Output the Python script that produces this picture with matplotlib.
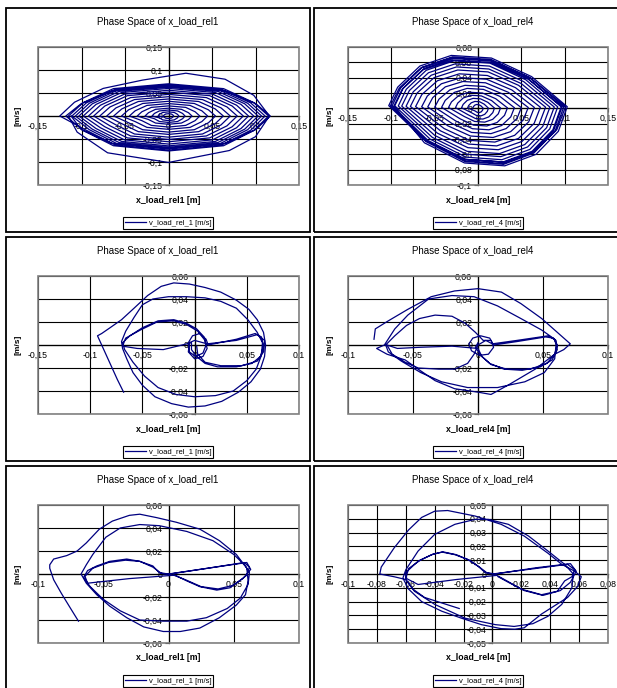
import matplotlib
matplotlib.use('Agg')
import matplotlib.pyplot as plt
from matplotlib.patches import Rectangle

plt.rcParams['font.family'] = ['Liberation Sans', 'DejaVu Sans']

# ---------------- data ----------------
titles = ['Phase Space of x_load_rel1', 'Phase Space of x_load_rel4']
xlabels = ['x_load_rel1 [m]', 'x_load_rel4 [m]']
legends = ['v_load_rel_1 [m/s]', 'v_load_rel_4 [m/s]']
ylabel = '[m/s]'

# panel 1 (top left): one row per revolution
x1 = [
    -0.006, -0.0051, -0.0033, 0, 0.0033, 0.0051, 0.006, 0.0051, 0.0033, 0, -0.0033, -0.0051,
    -0.012, -0.0102, -0.0066, 0, 0.0066, 0.0102, 0.012, 0.0102, 0.0066, 0, -0.0066, -0.0102,
    -0.019, -0.0162, -0.0105, 0, 0.0105, 0.0162, 0.019, 0.0162, 0.0105, 0, -0.0105, -0.0162,
    -0.027, -0.023, -0.0149, 0, 0.0149, 0.023, 0.027, 0.023, 0.0149, 0, -0.0149, -0.023,
    -0.036, -0.0306, -0.0198, 0, 0.0198, 0.0306, 0.036, 0.0306, 0.0198, 0, -0.0198, -0.0306,
    -0.045, -0.0383, -0.0248, 0, 0.0248, 0.0383, 0.045, 0.0383, 0.0248, 0, -0.0248, -0.0383,
    -0.054, -0.0459, -0.0297, 0, 0.0297, 0.0459, 0.054, 0.0459, 0.0297, 0, -0.0297, -0.0459,
    -0.063, -0.0536, -0.0347, 0, 0.0347, 0.0536, 0.063, 0.0536, 0.0347, 0, -0.0347, -0.0536,
    -0.071, -0.0604, -0.0391, 0, 0.0391, 0.0604, 0.071, 0.0604, 0.0391, 0, -0.0391, -0.0604,
    -0.079, -0.0672, -0.0435, 0, 0.0435, 0.0672, 0.079, 0.0672, 0.0435, 0, -0.0435, -0.0672,
    -0.086, -0.0731, -0.0473, 0, 0.0473, 0.0731, 0.086, 0.0731, 0.0473, 0, -0.0473, -0.0731,
    -0.092, -0.0782, -0.0506, 0, 0.0506, 0.0782, 0.092, 0.0782, 0.0506, 0, -0.0506, -0.0782,
    -0.098, -0.0833, -0.0539, 0, 0.0539, 0.0833, 0.098, 0.0833, 0.0539, 0, -0.0539, -0.0833,
    -0.103, -0.0876, -0.0567, 0, 0.0567, 0.0876, 0.103, 0.0876, 0.0567, 0, -0.0567, -0.0876,
    -0.107, -0.091, -0.0589, 0, 0.0589, 0.091, 0.107, 0.091, 0.0589, 0, -0.0589, -0.091,
    -0.111, -0.0944, -0.0611, 0, 0.0611, 0.0944, 0.111, 0.0944, 0.0611, 0, -0.0611, -0.0944,
    -0.125, -0.108, -0.075, -0.03, 0.02, 0.065, 0.098, 0.116, 0.1, 0.07, 0.0, -0.07, -0.105,
    -0.115, -0.0978, -0.0633, 0, 0.0633, 0.0978, 0.115, 0.0978, 0.0633, 0, -0.0633, -0.0978,
    -0.118, -0.1003, -0.0649, 0, 0.0649, 0.1003, 0.117, 0.1003, 0.0649, 0, -0.0649, -0.1003, -0.112]
v1 = [
    0, 0.0021, 0.0043, 0.005, 0.0043, 0.0021, 0, -0.0023, -0.0047, -0.0055, -0.0047, -0.0023,
    0, 0.0038, 0.0077, 0.009, 0.0077, 0.0038, 0, -0.0042, -0.0085, -0.01, -0.0085, -0.0042,
    0, 0.0055, 0.011, 0.013, 0.011, 0.0055, 0, -0.0059, -0.0119, -0.014, -0.0119, -0.0059,
    0, 0.0071, 0.0145, 0.017, 0.0145, 0.0071, 0, -0.0076, -0.0153, -0.018, -0.0153, -0.0076,
    0, 0.0092, 0.0187, 0.022, 0.0187, 0.0092, 0, -0.0101, -0.0204, -0.024, -0.0204, -0.0101,
    0, 0.0113, 0.023, 0.027, 0.023, 0.0113, 0, -0.0122, -0.0247, -0.029, -0.0247, -0.0122,
    0, 0.0134, 0.0272, 0.032, 0.0272, 0.0134, 0, -0.0147, -0.0298, -0.035, -0.0298, -0.0147,
    0, 0.0155, 0.0315, 0.037, 0.0315, 0.0155, 0, -0.0168, -0.034, -0.04, -0.034, -0.0168,
    0, 0.0176, 0.0357, 0.042, 0.0357, 0.0176, 0, -0.0193, -0.0391, -0.046, -0.0391, -0.0193,
    0, 0.0197, 0.04, 0.047, 0.04, 0.0197, 0, -0.0214, -0.0434, -0.051, -0.0434, -0.0214,
    0, 0.0218, 0.0442, 0.052, 0.0442, 0.0218, 0, -0.0235, -0.0476, -0.056, -0.0476, -0.0235,
    0, 0.0235, 0.0476, 0.056, 0.0476, 0.0235, 0, -0.0256, -0.0519, -0.061, -0.0519, -0.0256,
    0, 0.0252, 0.051, 0.06, 0.051, 0.0252, 0, -0.0273, -0.0553, -0.065, -0.0553, -0.0273,
    0, 0.0265, 0.0536, 0.063, 0.0536, 0.0265, 0, -0.0286, -0.0578, -0.068, -0.0578, -0.0286,
    0, 0.0277, 0.0561, 0.066, 0.0561, 0.0277, 0, -0.0298, -0.0604, -0.071, -0.0604, -0.0298,
    0, 0.0286, 0.0578, 0.068, 0.0578, 0.0286, 0, -0.0311, -0.0629, -0.074, -0.0629, -0.0311,
    0, 0.03, 0.06, 0.078, 0.093, 0.08, 0.045, 0, -0.045, -0.075, -0.101, -0.08, -0.035,
    0, 0.0294, 0.0595, 0.07, 0.0595, 0.0294, 0, -0.0319, -0.0646, -0.076, -0.0646, -0.0319,
    0, 0.0269, 0.0544, 0.064, 0.0544, 0.0269, 0, -0.0294, -0.0595, -0.07, -0.0595, -0.0294, 0]

# panel 2 (top right): one row per revolution
x2 = [
    -0.006, -0.0054, -0.0039, -0.0018, 0.0009, 0.0036, 0.006, 0.0054, 0.0039, 0.0018, -0.0009, -0.0036,
    -0.012, -0.0108, -0.0078, -0.0036, 0.0018, 0.0072, 0.012, 0.0108, 0.0078, 0.0036, -0.0018, -0.0072,
    -0.019, -0.0171, -0.0124, -0.0057, 0.0029, 0.0114, 0.019, 0.0171, 0.0124, 0.0057, -0.0029, -0.0114,
    -0.026, -0.0234, -0.0169, -0.0078, 0.0039, 0.0156, 0.026, 0.0234, 0.0169, 0.0078, -0.0039, -0.0156,
    -0.034, -0.0306, -0.0221, -0.0102, 0.0051, 0.0204, 0.034, 0.0306, 0.0221, 0.0102, -0.0051, -0.0204,
    -0.042, -0.0378, -0.0273, -0.0126, 0.0063, 0.0252, 0.042, 0.0378, 0.0273, 0.0126, -0.0063, -0.0252,
    -0.050, -0.045, -0.0325, -0.015, 0.0075, 0.030, 0.050, 0.045, 0.0325, 0.015, -0.0075, -0.030,
    -0.058, -0.0522, -0.0377, -0.0174, 0.0087, 0.0348, 0.058, 0.0522, 0.0377, 0.0174, -0.0087, -0.0348,
    -0.065, -0.0585, -0.0423, -0.0195, 0.0098, 0.039, 0.065, 0.0585, 0.0423, 0.0195, -0.0098, -0.039,
    -0.072, -0.0648, -0.0468, -0.0216, 0.0108, 0.0432, 0.072, 0.0648, 0.0468, 0.0216, -0.0108, -0.0432,
    -0.078, -0.0702, -0.0507, -0.0234, 0.0117, 0.0468, 0.078, 0.0702, 0.0507, 0.0234, -0.0117, -0.0468,
    -0.083, -0.0747, -0.054, -0.0249, 0.0125, 0.0498, 0.083, 0.0747, 0.054, 0.0249, -0.0125, -0.0498,
    -0.088, -0.0792, -0.0572, -0.0264, 0.0132, 0.0528, 0.088, 0.0792, 0.0572, 0.0264, -0.0132, -0.0528,
    -0.092, -0.0828, -0.0598, -0.0276, 0.0138, 0.0552, 0.092, 0.0828, 0.0598, 0.0276, -0.0138, -0.0552,
    -0.096, -0.0864, -0.0624, -0.0288, 0.0144, 0.0576, 0.096, 0.0864, 0.0624, 0.0288, -0.0144, -0.0576,
    -0.099, -0.0891, -0.0644, -0.0297, 0.0149, 0.0594, 0.099, 0.0891, 0.0644, 0.0297, -0.0149, -0.0594,
    -0.103, -0.0927, -0.067, -0.0309, 0.0155, 0.0618, 0.103, 0.0927, 0.067, 0.0309, -0.0155, -0.0618,
    -0.097, -0.0873, -0.0631, -0.0291, 0.0146, 0.0582, 0.097, 0.0873, 0.0631, 0.0291, -0.0146, -0.0582,
    -0.101, -0.0909, -0.0657, -0.0303, 0.0152, 0.0606, 0.101, 0.0909, 0.0657, 0.0303, -0.0152, -0.0606, -0.100]
v2 = [
    0.0003, 0.002, 0.004, 0.005, 0.0048, 0.003, 0.0002, -0.0022, -0.0044, -0.0055, -0.0052, -0.0033,
    0.0005, 0.0036, 0.0072, 0.009, 0.0086, 0.0054, 0.0003, -0.0039, -0.0078, -0.0098, -0.0093, -0.0059,
    0.0007, 0.0052, 0.0104, 0.013, 0.0124, 0.0078, 0.0004, -0.0056, -0.0112, -0.014, -0.0133, -0.0084,
    0.0009, 0.0068, 0.0136, 0.017, 0.0162, 0.0102, 0.0005, -0.0072, -0.0144, -0.018, -0.0171, -0.0108,
    0.0011, 0.0084, 0.0168, 0.021, 0.020, 0.0126, 0.0006, -0.0092, -0.0184, -0.023, -0.0219, -0.0138,
    0.0013, 0.0104, 0.0208, 0.026, 0.0247, 0.0156, 0.0008, -0.0112, -0.0224, -0.028, -0.0266, -0.0168,
    0.0015, 0.012, 0.024, 0.030, 0.0285, 0.018, 0.0009, -0.0132, -0.0264, -0.033, -0.0314, -0.0198,
    0.0018, 0.014, 0.028, 0.035, 0.0333, 0.021, 0.0011, -0.0152, -0.0304, -0.038, -0.0361, -0.0228,
    0.002, 0.016, 0.032, 0.040, 0.038, 0.024, 0.0012, -0.0176, -0.0352, -0.044, -0.0418, -0.0264,
    0.0023, 0.018, 0.036, 0.045, 0.0428, 0.027, 0.0014, -0.0196, -0.0392, -0.049, -0.0466, -0.0294,
    0.0025, 0.020, 0.040, 0.050, 0.0475, 0.030, 0.0015, -0.0216, -0.0432, -0.054, -0.0513, -0.0324,
    0.0027, 0.0216, 0.0432, 0.054, 0.0513, 0.0324, 0.0016, -0.0236, -0.0472, -0.059, -0.0561, -0.0354,
    0.0029, 0.0232, 0.0464, 0.058, 0.0551, 0.0348, 0.0017, -0.0252, -0.0504, -0.063, -0.0599, -0.0378,
    0.0031, 0.0248, 0.0496, 0.062, 0.0589, 0.0372, 0.0019, -0.0268, -0.0536, -0.067, -0.0637, -0.0402,
    0.0033, 0.026, 0.052, 0.065, 0.0618, 0.039, 0.002, -0.028, -0.056, -0.070, -0.0665, -0.042,
    0.0034, 0.0268, 0.0536, 0.067, 0.0637, 0.0402, 0.002, -0.0292, -0.0584, -0.073, -0.0694, -0.0438,
    0.0035, 0.0276, 0.0552, 0.069, 0.0656, 0.0414, 0.0021, -0.030, -0.060, -0.075, -0.0713, -0.045,
    0.0032, 0.0252, 0.0504, 0.063, 0.0599, 0.0378, 0.0019, -0.0288, -0.0576, -0.072, -0.0684, -0.0432,
    0.0033, 0.0264, 0.0528, 0.066, 0.0627, 0.0396, 0.002, -0.028, -0.056, -0.070, -0.0665, -0.042, 0.004]

# panel 3 (middle left) as (x, v) points
traj3 = [
    (-0.068, -0.041), (-0.074, -0.030), (-0.080, -0.018), (-0.086, -0.006), (-0.091, 0.004),
    (-0.093, 0.008), (-0.089, 0.010), (-0.081, 0.015), (-0.070, 0.022), (-0.058, 0.032),
    (-0.045, 0.043), (-0.032, 0.051), (-0.020, 0.054), (-0.005, 0.053), (0.010, 0.050),
    (0.025, 0.046), (0.040, 0.039), (0.052, 0.031), (0.060, 0.022), (0.066, 0.011),
    (0.068, 0.000), (0.067, -0.010), (0.063, -0.021), (0.054, -0.032), (0.042, -0.041),
    (0.026, -0.049), (0.010, -0.053), (-0.006, -0.054), (-0.022, -0.051), (-0.038, -0.045),
    (-0.050, -0.035), (-0.059, -0.024), (-0.065, -0.012), (-0.069, -0.003), (-0.070, 0.003),
    (-0.066, 0.012), (-0.058, 0.024), (-0.050, 0.035), (-0.040, 0.040), (-0.025, 0.042),
    (-0.008, 0.042), (0.010, 0.041), (0.025, 0.038), (0.040, 0.032), (0.051, 0.022),
    (0.060, 0.011), (0.065, 0.002), (0.064, -0.009), (0.059, -0.021), (0.050, -0.031),
    (0.037, -0.040), (0.020, -0.044), (0.000, -0.045), (-0.018, -0.043), (-0.035, -0.037),
    (-0.048, -0.027), (-0.059, -0.015), (-0.067, -0.004), (-0.069, 0.002),
    (-0.062, 0.008), (-0.050, 0.015), (-0.035, 0.021), (-0.020, 0.022), (-0.008, 0.019),
    (0.002, 0.014), (0.009, 0.007), (0.011, 0.000), (0.008, -0.007), (0.001, -0.010),
    (-0.005, -0.006), (-0.006, 0.002), (-0.002, 0.008), (0.005, 0.010), (0.011, 0.005),
    (0.013, 0.000), (0.040, 0.005), (0.058, 0.010), (0.064, 0.007), (0.066, -0.001),
    (0.063, -0.010), (0.055, -0.016), (0.040, -0.019), (0.022, -0.019), (0.010, -0.016),
    (0.002, -0.010), (-0.003, -0.004), (-0.003, 0.002), (-0.030, -0.004), (-0.055, -0.003),
    (-0.069, -0.001), (-0.066, 0.006), (-0.052, 0.013), (-0.036, 0.020), (-0.020, 0.021),
    (-0.008, 0.018), (0.003, 0.012), (0.010, 0.004), (0.012, -0.003), (0.008, -0.010),
    (0.000, -0.012), (-0.006, -0.006), (-0.005, 0.002), (0.000, 0.004), (0.012, 0.001),
    (0.040, 0.004), (0.060, 0.009), (0.067, 0.004), (0.066, -0.006), (0.060, -0.014),
    (0.045, -0.018), (0.025, -0.018), (0.010, -0.015), (0.003, -0.008), (0.002, -0.001)]

# panel 4 (middle right)
traj4 = [
    (-0.080, 0.005), (-0.079, 0.014), (-0.069, 0.021), (-0.054, 0.031), (-0.036, 0.042),
    (-0.018, 0.047), (0.000, 0.049), (0.018, 0.046), (0.033, 0.036), (0.049, 0.023),
    (0.061, 0.011), (0.071, 0.001), (0.066, -0.004), (0.059, -0.008), (0.044, -0.021),
    (0.023, -0.035), (0.010, -0.043), (0.000, -0.041), (-0.018, -0.038), (-0.033, -0.031),
    (-0.046, -0.021), (-0.056, -0.013), (-0.070, -0.008), (-0.078, -0.003), (-0.072, 0.000),
    (-0.064, 0.014), (-0.054, 0.026), (-0.038, 0.040), (-0.020, 0.043), (-0.003, 0.042),
    (0.015, 0.034), (0.033, 0.023), (0.049, 0.013), (0.059, 0.005), (0.060, 0.000),
    (0.059, -0.012), (0.051, -0.024), (0.036, -0.032), (0.015, -0.037), (-0.008, -0.037),
    (-0.028, -0.032), (-0.044, -0.024), (-0.059, -0.014), (-0.069, -0.006), (-0.071, 0.000),
    (-0.064, 0.008), (-0.055, 0.017), (-0.045, 0.023), (-0.033, 0.026), (-0.020, 0.025),
    (-0.010, 0.019), (-0.002, 0.011), (0.004, 0.004), (0.010, 0.004), (0.012, -0.002),
    (0.008, -0.008), (0.001, -0.009), (-0.005, -0.005), (-0.007, 0.001), (-0.004, 0.006),
    (0.002, 0.008), (0.009, 0.006), (0.012, 0.000), (0.030, 0.003), (0.052, 0.007),
    (0.058, 0.006), (0.061, 0.000), (0.059, -0.008), (0.053, -0.016), (0.040, -0.021),
    (0.022, -0.021), (0.010, -0.017), (0.003, -0.010), (0.000, -0.003), (-0.020, -0.001),
    (-0.045, -0.002), (-0.062, -0.003), (-0.070, 0.000), (-0.066, -0.008), (-0.056, -0.015),
    (-0.046, -0.020), (-0.030, -0.021), (-0.018, -0.021), (-0.008, -0.016), (-0.003, -0.008),
    (0.000, 0.000), (0.006, 0.004), (0.011, 0.001), (0.030, 0.004), (0.054, 0.008),
    (0.060, 0.004), (0.061, -0.004), (0.057, -0.013), (0.048, -0.019), (0.034, -0.022),
    (0.020, -0.021), (0.009, -0.016), (0.002, -0.009), (-0.002, -0.002), (0.000, 0.002)]

# panel 5 (bottom left)
traj5 = [
    (-0.069, -0.041), (-0.075, -0.030), (-0.082, -0.017), (-0.088, -0.005), (-0.091, 0.005),
    (-0.091, 0.008), (-0.088, 0.013), (-0.078, 0.016), (-0.070, 0.020), (-0.063, 0.027),
    (-0.053, 0.039), (-0.043, 0.046), (-0.030, 0.051), (-0.022, 0.052), (-0.009, 0.049),
    (0.006, 0.045), (0.024, 0.039), (0.039, 0.029), (0.052, 0.017), (0.060, 0.005),
    (0.061, -0.006), (0.059, -0.018), (0.052, -0.027), (0.039, -0.038), (0.024, -0.047),
    (0.009, -0.050), (-0.004, -0.050), (-0.019, -0.046), (-0.032, -0.038), (-0.045, -0.028),
    (-0.055, -0.018), (-0.063, -0.008), (-0.067, 0.000), (-0.063, 0.008), (-0.058, 0.017),
    (-0.048, 0.032), (-0.037, 0.040), (-0.022, 0.043), (-0.007, 0.042), (0.014, 0.037),
    (0.034, 0.029), (0.050, 0.017), (0.059, 0.007), (0.062, 0.001), (0.061, -0.009),
    (0.055, -0.021), (0.045, -0.030), (0.029, -0.038), (0.014, -0.041), (-0.004, -0.041),
    (-0.022, -0.040), (-0.037, -0.032), (-0.050, -0.022), (-0.060, -0.011), (-0.065, -0.003),
    (-0.062, 0.003), (-0.055, 0.007), (-0.045, 0.011), (-0.032, 0.013), (-0.022, 0.011),
    (-0.012, 0.007), (-0.007, 0.001), (-0.003, 0.000), (0.001, 0.000), (0.030, 0.005),
    (0.058, 0.010), (0.062, 0.006), (0.060, -0.001), (0.052, -0.008), (0.047, -0.012),
    (0.037, -0.014), (0.024, -0.011), (0.014, -0.006), (0.005, -0.001), (-0.030, -0.004),
    (-0.062, -0.008), (-0.064, -0.002), (-0.058, 0.005), (-0.046, 0.010), (-0.033, 0.012),
    (-0.022, 0.011), (-0.012, 0.006), (-0.006, 0.001), (0.000, 0.000), (0.030, 0.005),
    (0.060, 0.010), (0.063, 0.004), (0.057, -0.004), (0.049, -0.010), (0.038, -0.013),
    (0.025, -0.011), (0.013, -0.005), (0.004, -0.001)]

# panel 6 (bottom right)
traj6 = [
    (-0.023, -0.025), (-0.035, -0.021), (-0.047, -0.017), (-0.055, -0.011), (-0.060, -0.004),
    (-0.068, -0.002), (-0.078, 0.000), (-0.077, 0.005), (-0.068, 0.019), (-0.058, 0.032),
    (-0.049, 0.041), (-0.040, 0.0455), (-0.031, 0.046), (-0.012, 0.042), (0.006, 0.036),
    (0.022, 0.0275), (0.0385, 0.015), (0.048, 0.007), (0.057, 0.002), (0.0615, -0.002),
    (0.059, -0.009), (0.052, -0.017), (0.043, -0.023), (0.034, -0.029), (0.022, -0.039),
    (0.0155, -0.040), (0.006, -0.0396), (-0.0076, -0.0367), (-0.0215, -0.032), (-0.035, -0.027),
    (-0.049, -0.020), (-0.058, -0.011), (-0.062, -0.003), (-0.060, 0.003), (-0.0515, 0.0166),
    (-0.040, 0.0287), (-0.026, 0.036), (-0.012, 0.0396), (-0.003, 0.0396), (0.011, 0.036),
    (0.025, 0.0275), (0.0385, 0.0166), (0.050, 0.007), (0.056, 0.000), (0.055, -0.010),
    (0.048, -0.022), (0.0385, -0.0306), (0.028, -0.036), (0.015, -0.038), (0.002, -0.0367),
    (-0.019, -0.032), (-0.040, -0.022), (-0.054, -0.0125), (-0.060, -0.004), (-0.060, 0.001),
    (-0.0515, 0.0093), (-0.042, 0.014), (-0.035, 0.0159), (-0.026, 0.014), (-0.017, 0.0105),
    (-0.010, 0.0057), (-0.005, 0.001), (0.000, 0.000), (0.030, 0.004), (0.052, 0.007),
    (0.057, 0.003), (0.055, -0.002), (0.050, -0.005), (0.045, -0.0125), (0.034, -0.015),
    (0.020, -0.011), (0.010, -0.005), (0.003, -0.001), (-0.025, -0.004), (-0.0515, -0.0076),
    (-0.060, -0.003), (-0.058, 0.004), (-0.050, 0.010), (-0.041, 0.0145), (-0.034, 0.016),
    (-0.025, 0.014), (-0.016, 0.010), (-0.009, 0.005), (-0.004, 0.001), (0.002, 0.000),
    (0.030, 0.0045), (0.054, 0.0075), (0.058, 0.002), (0.054, -0.006), (0.047, -0.012),
    (0.035, -0.0155), (0.022, -0.012), (0.011, -0.006), (0.004, -0.002)]

xt1 = [-0.15, -0.1, -0.05, 0, 0.05, 0.1, 0.15]
yt1 = [-0.15, -0.1, -0.05, 0, 0.05, 0.1, 0.15]
xt2 = [-0.15, -0.1, -0.05, 0, 0.05, 0.1, 0.15]
yt2 = [-0.1, -0.08, -0.06, -0.04, -0.02, 0, 0.02, 0.04, 0.06, 0.08]
xt3 = [-0.15, -0.1, -0.05, 0, 0.05, 0.1]
yt3 = [-0.06, -0.04, -0.02, 0, 0.02, 0.04, 0.06]
xt4 = [-0.1, -0.05, 0, 0.05, 0.1]
yt4 = [-0.06, -0.04, -0.02, 0, 0.02, 0.04, 0.06]
xt5 = [-0.1, -0.05, 0, 0.05, 0.1]
yt5 = [-0.06, -0.04, -0.02, 0, 0.02, 0.04, 0.06]
xt6 = [-0.1, -0.08, -0.06, -0.04, -0.02, 0, 0.02, 0.04, 0.06, 0.08]
yt6 = [-0.05, -0.04, -0.03, -0.02, -0.01, 0, 0.01, 0.02, 0.03, 0.04, 0.05]

# ---------------- drawing ----------------
W, H = 617, 688
fig = plt.figure(figsize=(W / 100, H / 100), dpi=100)
fig.patch.set_facecolor('white')


def fx(px):
    return px / W


def fy(py):
    return 1 - py / H


def fmt(t):
    if abs(t) < 1e-12:
        return '0'
    return ('%g' % round(t, 4)).replace('.', ',')


LINE = '#000080'


def draw_panel(col, row, x, v, xt, yt, k):
    dy = 229 * row
    fl, fr = (6, 310) if col == 0 else (314, 660)
    ft, fb = 8 + dy, 232 + dy
    fig.patches.append(Rectangle((fx(fl), fy(fb)), fx(fr) - fx(fl), fy(ft) - fy(fb),
                                 transform=fig.transFigure, fill=False,
                                 edgecolor='black', lw=1.3))
    left, width = (38, 261) if col == 0 else (348, 260)
    top, h = 47 + dy, 138
    ax = fig.add_axes([fx(left), fy(top + h), width / W, h / H])
    line, = ax.plot(x, v, color=LINE, lw=0.9, zorder=4)
    ax.set_xlim(xt[0], xt[-1])
    ax.set_ylim(yt[0], yt[-1])
    ax.set_xticks(xt)
    ax.set_yticks(yt)
    ax.set_xticklabels([fmt(t) for t in xt])
    ax.set_yticklabels([fmt(t) for t in yt])
    ax.grid(True, color='black', lw=0.8)
    ax.set_axisbelow(True)
    ax.spines['top'].set_visible(False)
    ax.spines['right'].set_visible(False)
    ax.spines['left'].set_position(('data', 0))
    ax.spines['bottom'].set_position(('data', 0))
    for s in ('left', 'bottom'):
        ax.spines[s].set_color('black')
        ax.spines[s].set_linewidth(0.9)
    ax.add_patch(Rectangle((0, 0), 1, 1, transform=ax.transAxes, fill=False,
                           edgecolor='#808080', lw=1.2, zorder=5, clip_on=False))
    ax.tick_params(labelsize=6.3, length=3, width=0.8, pad=1.2, direction='out',
                   colors='black')
    ax.patch.set_facecolor('white')

    tcx = 158 if col == 0 else 473
    pcx = 168 if col == 0 else 478
    fig.text(fx(tcx), fy(22 + dy), titles[k], ha='center', va='center', fontsize=7)
    fig.text(fx(pcx), fy(200 + dy), xlabels[k], ha='center', va='center',
             fontsize=6.3, fontweight='bold')
    ylx = 18 if col == 0 else 330
    fig.text(fx(ylx), fy(116 + dy), ylabel, ha='center', va='center', rotation=90,
             fontsize=6, fontweight='bold')
    leg = fig.legend([line], [legends[k]], loc='center',
                     bbox_to_anchor=(fx(pcx), fy(223 + dy)), fontsize=5.5,
                     frameon=True, fancybox=False, edgecolor='black', framealpha=1,
                     handlelength=2.8, handletextpad=0.3, borderpad=0.3,
                     borderaxespad=0)
    leg.get_frame().set_linewidth(0.8)
    return ax


draw_panel(0, 0, x1, v1, xt1, yt1, 0)
draw_panel(1, 0, x2, v2, xt2, yt2, 1)
draw_panel(0, 1, [p[0] for p in traj3], [p[1] for p in traj3], xt3, yt3, 0)
draw_panel(1, 1, [p[0] for p in traj4], [p[1] for p in traj4], xt4, yt4, 1)
draw_panel(0, 2, [p[0] for p in traj5], [p[1] for p in traj5], xt5, yt5, 0)
draw_panel(1, 2, [p[0] for p in traj6], [p[1] for p in traj6], xt6, yt6, 1)

fig.savefig('out.png', dpi=100, facecolor='white')
